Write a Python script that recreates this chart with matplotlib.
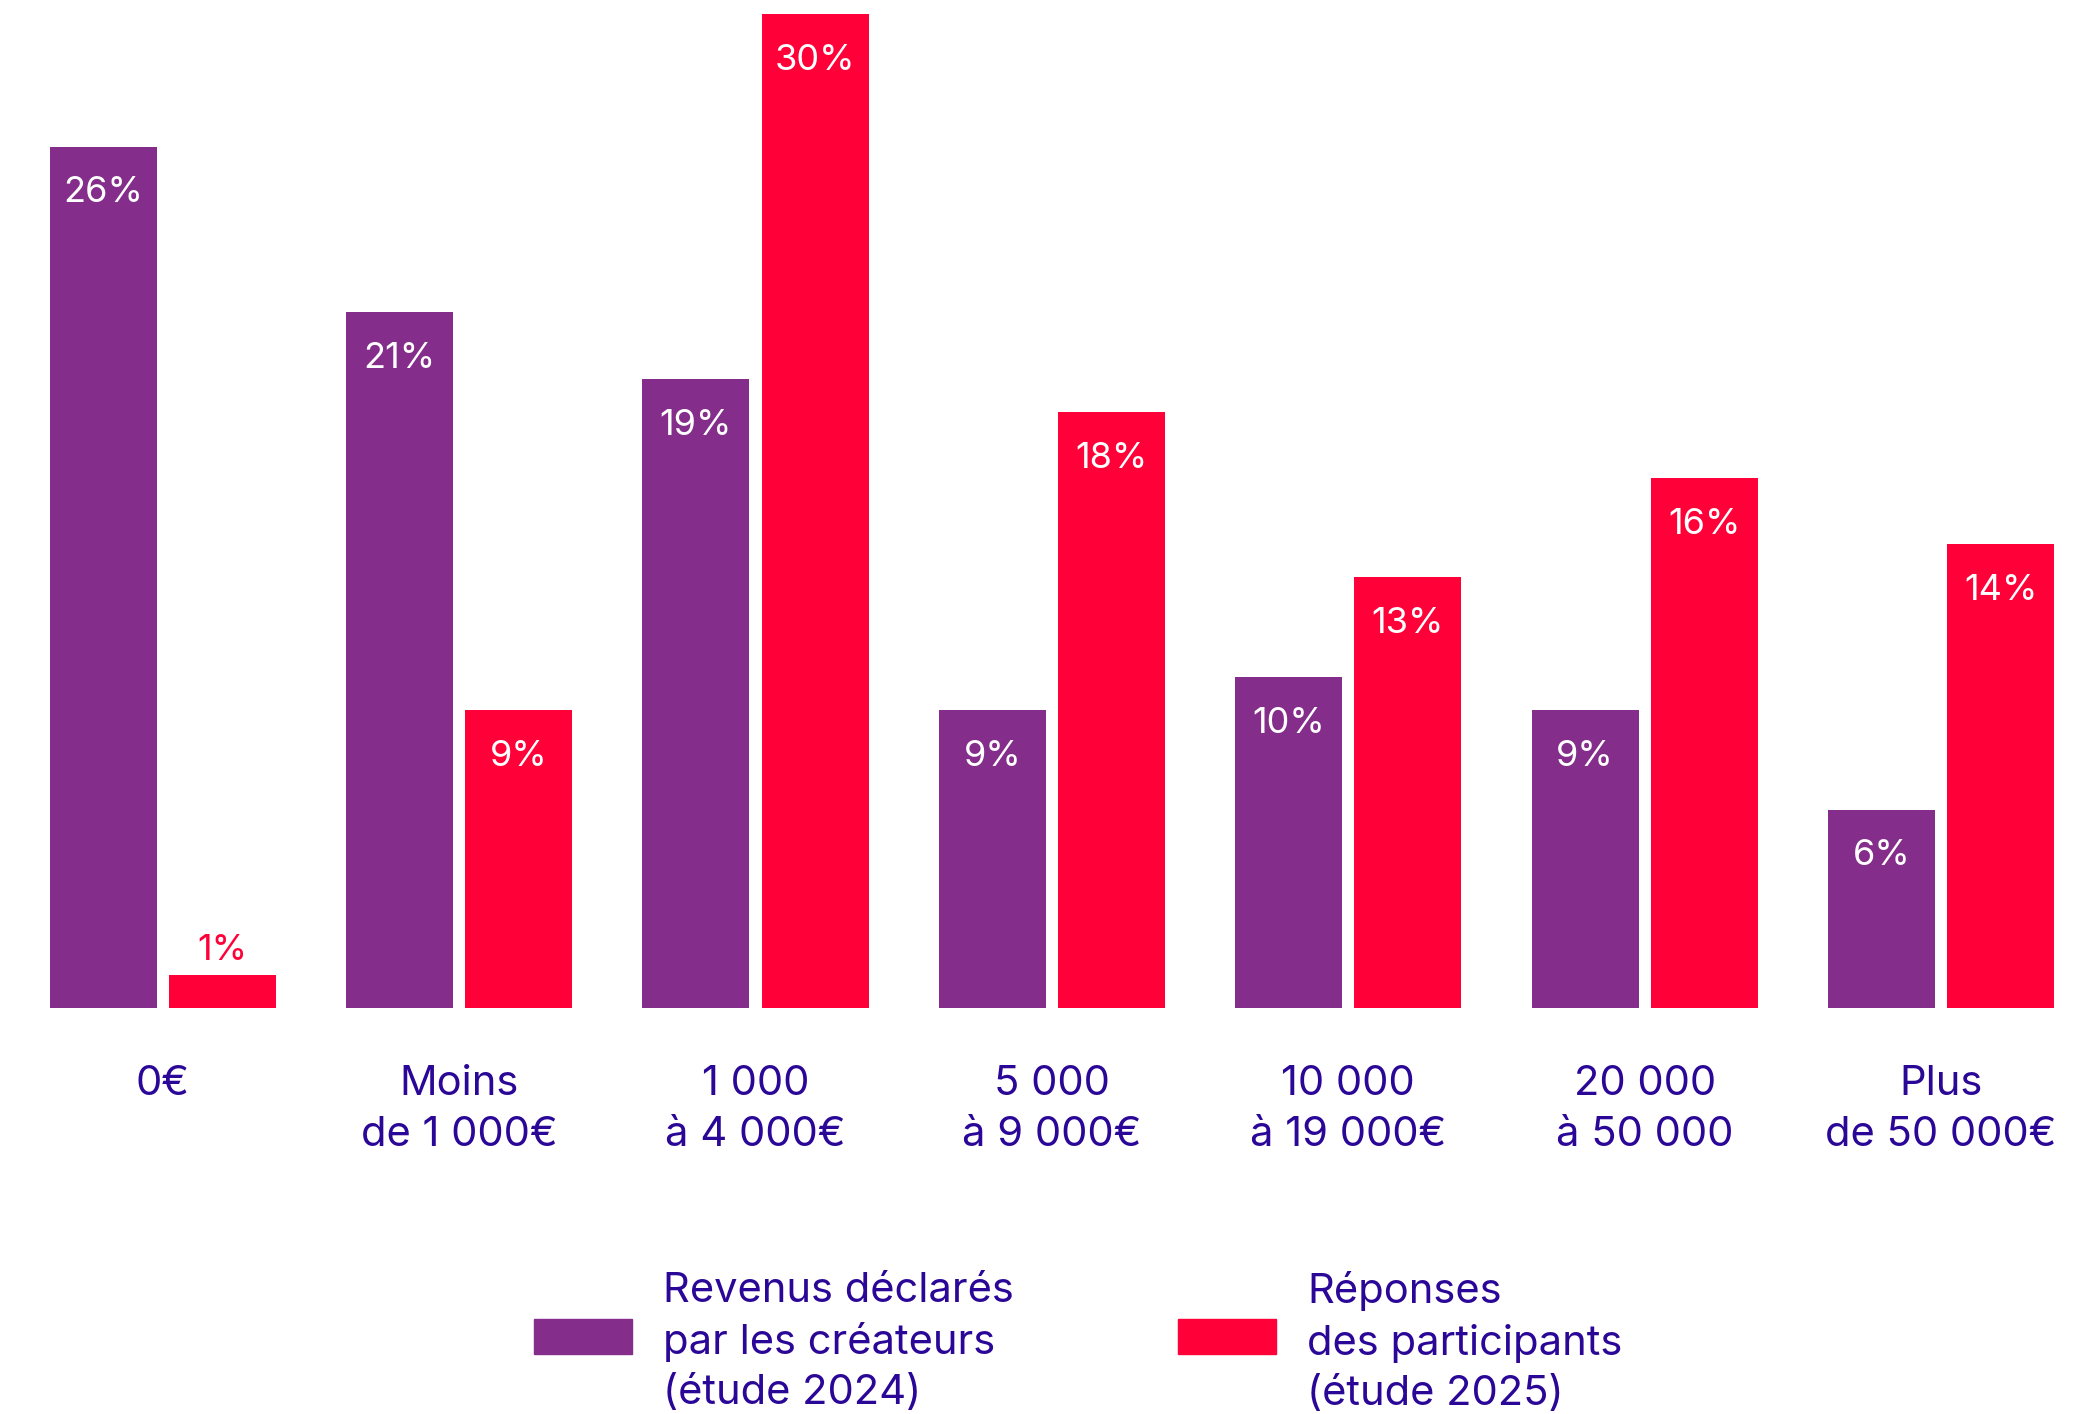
import matplotlib.pyplot as plt
import numpy as np

plt.rcParams['font.family'] = ['Inter', 'DejaVu Sans']

# categories and values (%)
categories = ["0€", "Moins\nde 1 000€", "1 000\nà 4 000€", "5 000\nà 9 000€",
              "10 000\nà 19 000€", "20 000\nà 50 000", "Plus\nde 50 000€"]
revenus_2024 = [26, 21, 19, 9, 10, 9, 6]
reponses_2025 = [1, 9, 30, 18, 13, 16, 14]
series_labels = ["Revenus déclarés\npar les créateurs\n(étude 2024)",
                 "Réponses\ndes participants\n(étude 2025)"]

purple = '#842D8B'
red = '#FF0038'
navy = '#2B0797'

fig = plt.figure(figsize=(21, 14.14), dpi=100)
ax = fig.add_axes([0, 0.2868, 1, 0.7132])

x = np.arange(len(categories))
w = 0.361
off = 0.201

ax.bar(x - off, revenus_2024, w, color=purple)
ax.bar(x + off, reponses_2025, w, color=red)

for xi, v in zip(x - off, revenus_2024):
    ax.text(xi, v - 1.4, f"{v}%", ha='center', va='center', color='white', fontsize=26)
for xi, v in zip(x + off, reponses_2025):
    if v < 3:
        ax.text(xi, v + 0.74, f"{v}%", ha='center', va='center', color=red, fontsize=26)
    else:
        ax.text(xi, v - 1.4, f"{v}%", ha='center', va='center', color='white', fontsize=26)

ax.set_xlim(-0.5486, 6.536)
ax.set_ylim(0, 30.42)
ax.axis('off')

# category labels under the bars
for xi, c in zip(x, categories):
    ax.annotate(c, (xi, 0), xytext=(0, -57), textcoords='offset pixels',
                ha='center', va='top', color=navy, fontsize=30, linespacing=1.42)

# legend, drawn by hand
sw_w, sw_h = 98 / 2100, 35 / 1414
legend_items = [(534 / 2100, purple, series_labels[0]), (1178 / 2100, red, series_labels[1])]
for lx, col, lab in legend_items:
    fig.patches.append(plt.Rectangle((lx, 1 - 1354 / 1414), sw_w, sw_h,
                                     transform=fig.transFigure, color=col))
    fig.text(lx + 129 / 2100, 1 - 1342 / 1414, lab, ha='left', va='center',
             color=navy, fontsize=30, linespacing=1.4)

fig.savefig('out.png', dpi=100)
